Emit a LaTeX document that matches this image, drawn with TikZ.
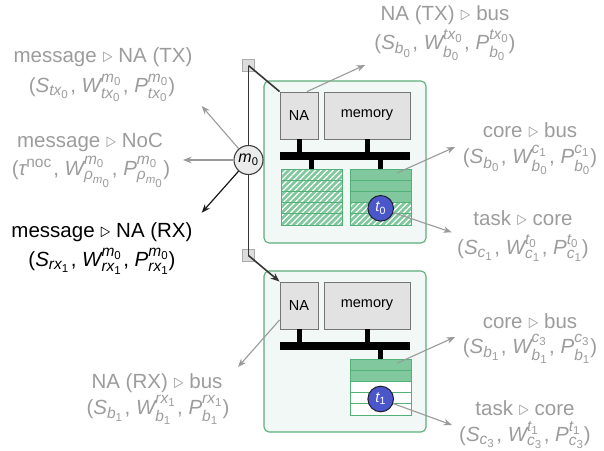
\documentclass[tikz,border=0pt]{standalone}
\usepackage{amsmath}
\usepackage{fontspec}
\setmainfont{Liberation Sans}
\usetikzlibrary{arrows.meta,patterns.meta}
\DeclareMathSizes{20.5}{20.5}{15.5}{11.5}

\definecolor{labelgrey}{HTML}{9C9C9C}
\definecolor{arrowgrey}{HTML}{9A9A9A}
\definecolor{tileline}{HTML}{5BAE79}
\definecolor{tilefill}{HTML}{F2F8F6}
\definecolor{cellfill}{HTML}{82C89E}
\definecolor{cellline}{HTML}{52B176}
\definecolor{boxfill}{HTML}{E2E2E2}
\definecolor{boxline}{HTML}{757575}
\definecolor{msgfill}{HTML}{EBEBEB}
\definecolor{msgline}{HTML}{404040}
\definecolor{portfill}{HTML}{DCDCDC}
\definecolor{portline}{HTML}{ABABAB}
\definecolor{nocline}{HTML}{363636}
\definecolor{taskfill}{HTML}{4A56C9}
\definecolor{taskline}{HTML}{1E1E2E}

% italic sans letters usable in text and math
\newcommand\mi[1]{\text{\itshape #1}}
\newcommand\mz{\text{0}}
\newcommand\mo{\text{1}}
\newcommand\mt{\text{3}}
\newcommand\tri{$\triangleright$}
\newcommand\cm{\kern1.5pt, }
% (S_a, W^b_a, P^b_a) tuple
\newcommand\tuple[3]{(#1$_{#2}$\cm\mi{W}$^{#3}_{#2}$\cm\mi{P}$^{#3}_{#2}$)}

\begin{document}
\begin{tikzpicture}[x=1pt,y=-1pt,
  lbl/.style={text=labelgrey, font=\fontsize{20.5}{24}\selectfont, inner sep=0pt},
  lblk/.style={lbl, text=black},
  tile/.style={draw=tileline, fill=tilefill, line width=1.1pt, rounded corners=5pt},
  box/.style={draw=boxline, fill=boxfill, line width=0.9pt, inner sep=0pt,
    minimum height=47, font=\fontsize{14.5}{17}\selectfont},
  port/.style={draw=portline, fill=portfill, line width=0.8pt, minimum size=12, inner sep=0pt},
  msg/.style={circle, draw=msgline, fill=msgfill, line width=1.1pt, minimum size=29,
    inner sep=0pt, font=\fontsize{16}{18}\selectfont},
  task/.style={circle, draw=taskline, fill=taskfill, line width=1pt, minimum size=25.6,
    inner sep=0pt, text=white, font=\fontsize{15}{17}\selectfont},
  noc/.style={draw=nocline, line width=1.6pt},
  garrow/.style={draw=arrowgrey, line width=1.1pt, -{Stealth[length=8.5pt,width=6.5pt]}},
  karrow/.style={draw=black!90, line width=1.2pt, -{Stealth[length=8.5pt,width=6.5pt]}},
  busbar/.style={line width=8pt},
  stub/.style={line width=5pt},
  c-s/.style={fill=cellfill}, c-h/.style={fill=cellfill}, c-w/.style={fill=white},
  h-h/.style={pattern={Lines[angle=45,distance=4.2pt,line width=1.2pt]}, pattern color=white},
  h-s/.style={}, h-w/.style={},
  rowline/.style={draw=cellline, line width=0.9pt}
]
\useasboundingbox (0,0) rectangle (604,450);

% ---------- tiles ----------
\node[tile, minimum width=162, minimum height=162] (tile0) at (345,162) {};
\node[tile, minimum width=162, minimum height=161] (tile1) at (345,351.5) {};

% top tile: network adapter, memory and bus
\node[box, minimum width=38] (na0) at (299,115.5) {NA};
\node[box, minimum width=86] (mem0) at (367,115.5) {memory};
\draw[busbar] (280,155.7) -- (410,155.7);
\draw[stub] (na0.south) -- (299,156);
\draw[stub] (mem0.south) -- (367,156);
\draw[stub] (311.7,156) -- (311.7,169.3);
\draw[stub] (380.7,156) -- (380.7,169.3);

% top tile: two cores, five slots each
\foreach \k [count=\i from 0] in {h,h,h,h,h} {
  \pgfmathsetmacro\yy{169.3+\i*11.14}
  \path[c-\k] (281,\yy) rectangle ++(61,11.14);
  \path[h-\k] (281,\yy) rectangle ++(61,11.14);
  \draw[rowline] (281,\yy) rectangle ++(61,11.14);
}
\foreach \k [count=\i from 0] in {s,s,s,h,h} {
  \pgfmathsetmacro\yy{169.3+\i*11.14}
  \path[c-\k] (350,\yy) rectangle ++(61,11.14);
  \path[h-\k] (350,\yy) rectangle ++(61,11.14);
  \draw[rowline] (350,\yy) rectangle ++(61,11.14);
}
\node[task] (t0) at (380.7,208.3) {$\mi{t}_\mz$};

% bottom tile
\node[box, minimum width=38] (na1) at (299,305.5) {NA};
\node[box, minimum width=86] (mem1) at (367,305.5) {memory};
\draw[busbar] (280,345.7) -- (410,345.7);
\draw[stub] (na1.south) -- (299,346);
\draw[stub] (mem1.south) -- (367,346);
\draw[stub] (380.7,346) -- (380.7,359.3);
\foreach \k [count=\i from 0] in {s,s,w,w,w} {
  \pgfmathsetmacro\yy{359.3+\i*11.14}
  \path[c-\k] (350,\yy) rectangle ++(61,11.14);
  \draw[rowline] (350,\yy) rectangle ++(61,11.14);
}
\node[task] (t1) at (380.7,399) {$\mi{t}_\mo$};

% ---------- NoC link ----------
\node[port] (p0) at (248.5,65.5) {};
\node[port] (p1) at (248.5,255.5) {};
\draw[noc] (p0.center) -- (p1.center);
\draw[noc] (p0.center) -- (na0.north west);
\draw[noc, -{Stealth[length=9pt,width=7pt]}] (p1.center) -- (na1.north west);
\node[msg] (m0) at (248.5,160) {$\mi{m}_\mz$};

% ---------- labels ----------
\node[lbl] (l-txn) at (103,57) {message \tri{} NA (TX)};
\node[lbl] (l-txm) at (102,88) {\tuple{\mi{S}}{\mi{tx}_\mz}{\mi{m}_\mz}};

\node[lbl] (l-nocn) at (90,142) {message \tri{} NoC};
\node[lbl] (l-nocm) at (91,172) {(\mi{τ}$^{\text{noc}}$\cm\mi{W}$^{\mi{m}_\mz}_{\mi{ρ}_{\mi{m}_\mz}}$\cm\mi{P}$^{\mi{m}_\mz}_{\mi{ρ}_{\mi{m}_\mz}}$)};

\node[lblk] (l-rxn) at (102,232) {message \tri{} NA (RX)};
\node[lblk] (l-rxm) at (102,261) {\tuple{\mi{S}}{\mi{rx}_\mo}{\mi{m}_\mz}};

\node[lbl] (l-nbn) at (445,15) {NA (TX) \tri{} bus};
\node[lbl] (l-nbm) at (445,45) {\tuple{\mi{S}}{\mi{b}_\mz}{\mi{tx}_\mz}};

\node[lbl] (l-cb0n) at (530,130) {core \tri{} bus};
\node[lbl] (l-cb0m) at (530,160) {\tuple{\mi{S}}{\mi{b}_\mz}{\mi{c}_\mo}};

\node[lbl] (l-tc0n) at (523,218) {task \tri{} core};
\node[lbl] (l-tc0m) at (523,248) {\tuple{\mi{S}}{\mi{c}_\mo}{\mi{t}_\mz}};

\node[lbl] (l-cb1n) at (530,321) {core \tri{} bus};
\node[lbl] (l-cb1m) at (530,349) {\tuple{\mi{S}}{\mi{b}_\mo}{\mi{c}_\mt}};

\node[lbl] (l-tc1n) at (525,408) {task \tri{} core};
\node[lbl] (l-tc1m) at (525,435) {\tuple{\mi{S}}{\mi{c}_\mt}{\mi{t}_\mo}};

\node[lbl] (l-rbn) at (157,383) {NA (RX) \tri{} bus};
\node[lbl] (l-rbm) at (158,410) {\tuple{\mi{S}}{\mi{b}_\mo}{\mi{rx}_\mo}};

% ---------- arrow ends ----------
\coordinate (e-tx)  at (201.7,106);
\coordinate (e-noc) at (183,160);
\coordinate (e-rx)  at (201.7,212.7);
\coordinate (e-nb)  at (365,65);
\coordinate (s-cb0) at (397,173);
\coordinate (e-cb0) at (455,147);
\coordinate (e-tc0) at (451.7,232.3);
\coordinate (s-cb1) at (397,363.3);
\coordinate (e-cb1) at (455,337);
\coordinate (e-tc1) at (452,425);
\coordinate (e-rb)  at (238,367);

% ---------- annotation arrows ----------
\draw[garrow] (m0) -- (e-tx);
\draw[garrow] (m0) -- (e-noc);
\draw[karrow] (m0) -- (e-rx);
\draw[garrow] ([xshift=8pt]na0.north) -- (e-nb);
\draw[garrow] (s-cb0) -- (e-cb0);
\draw[garrow] (t0) -- (e-tc0);
\draw[garrow] (s-cb1) -- (e-cb1);
\draw[garrow] (t1) -- (e-tc1);
\draw[garrow] ([yshift=-14.5pt]na1.west) -- (e-rb);
\end{tikzpicture}
\end{document}
